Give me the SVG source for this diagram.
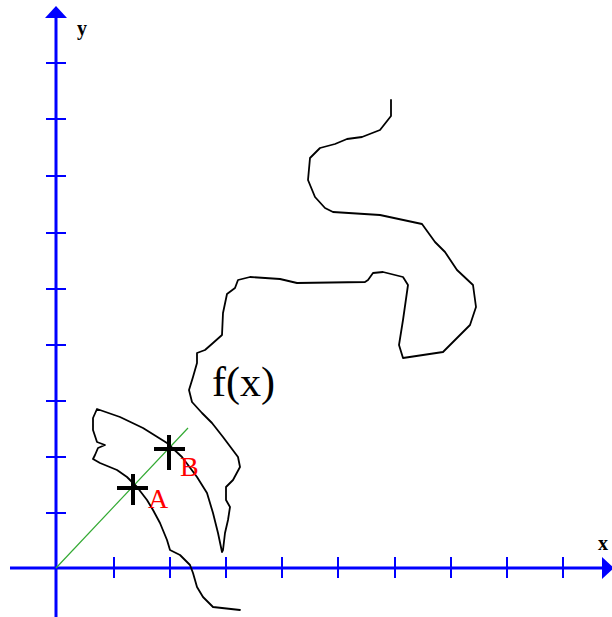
<svg xmlns="http://www.w3.org/2000/svg" width="612" height="617" viewBox="0 0 612 617">
<style>
.axis{stroke:#0000ff;stroke-width:3;fill:none}
.tick{stroke:#0000ff;stroke-width:2;fill:none}
.curve{stroke:#000;stroke-width:1.8;fill:none;stroke-linejoin:round;stroke-linecap:round}
.cross{stroke:#000;stroke-width:4;fill:none}
.axlabel{font-family:"Liberation Serif",serif;font-weight:bold;font-size:20px;fill:#000}
.pt{font-family:"Liberation Serif",serif;font-size:28px;fill:#ff0000}
</style>
<rect width="612" height="617" fill="#fff"/>
<g id="axes">
<line class="axis" x1="56" y1="14" x2="56" y2="617"/>
<polygon points="56,6 45,18 67,18" fill="#0000ff"/>
<line class="axis" x1="10" y1="568" x2="604" y2="568"/>
<polygon points="614,568 602,557 602,579" fill="#0000ff"/>
<g class="tick">
<line x1="46" y1="63" x2="66" y2="63"/>
<line x1="46" y1="119" x2="66" y2="119"/>
<line x1="46" y1="176" x2="66" y2="176"/>
<line x1="46" y1="233" x2="66" y2="233"/>
<line x1="46" y1="289" x2="66" y2="289"/>
<line x1="46" y1="345" x2="66" y2="345"/>
<line x1="46" y1="401" x2="66" y2="401"/>
<line x1="46" y1="457" x2="66" y2="457"/>
<line x1="46" y1="513" x2="66" y2="513"/>
<line x1="114" y1="557" x2="114" y2="578"/>
<line x1="170" y1="557" x2="170" y2="578"/>
<line x1="226" y1="557" x2="226" y2="578"/>
<line x1="282" y1="557" x2="282" y2="578"/>
<line x1="338" y1="557" x2="338" y2="578"/>
<line x1="395" y1="557" x2="395" y2="578"/>
<line x1="451" y1="557" x2="451" y2="578"/>
<line x1="507" y1="557" x2="507" y2="578"/>
<line x1="563" y1="557" x2="563" y2="578"/>
</g>
<text class="axlabel" x="77" y="35">y</text>
<text class="axlabel" x="598" y="550">x</text>
</g>
<g id="secant">
<line x1="56" y1="568" x2="188" y2="428" stroke="#33aa33" stroke-width="1.2"/>
</g>
<g id="curve">
<polyline class="curve" points="240,610 213,607 203,597 197,587 193,573 190,565 180,555 170,550 167,540 160,523 153,510 147,500 137,487 127,477 117,470 100,463 93,459 95,455 98,448 105,445 97,442 93,430 93,418 97,409 120,417 143,428 167,443 182,457 197,477 207,493 213,513 218,533 222,552 223,550 225,533 228,520 230,507 226,500 226,487 233,480 240,467 238,457 223,437 212,423 202,413 192,402 189,390 193,377 197,363 197,353 205,350 213,343 222,335 223,313 227,294 235,288 238,280 250,277 280,279 297,283 365,282 368,280 373,273 383,272 403,277 408,285 403,320 399,345 403,358 443,352 470,325 476,307 473,285 457,270 445,252 435,242 422,224 380,215 333,212 325,208 315,197 308,180 310,158 320,148 335,144 347,139 362,137 380,130 391,116 391,100"/>
<text x="212" y="396" font-family="Liberation Serif,serif" font-size="42" fill="#000">f(x)</text>
</g>
<g id="pointA">
<line class="cross" x1="117" y1="488" x2="148" y2="488"/>
<line class="cross" x1="133" y1="474" x2="133" y2="505"/>
<text class="pt" x="148" y="508">A</text>
</g>
<g id="pointB">
<line class="cross" x1="154" y1="449" x2="185" y2="449"/>
<line class="cross" x1="169" y1="435" x2="169" y2="470"/>
<text class="pt" x="180" y="476">B</text>
</g>
</svg>
